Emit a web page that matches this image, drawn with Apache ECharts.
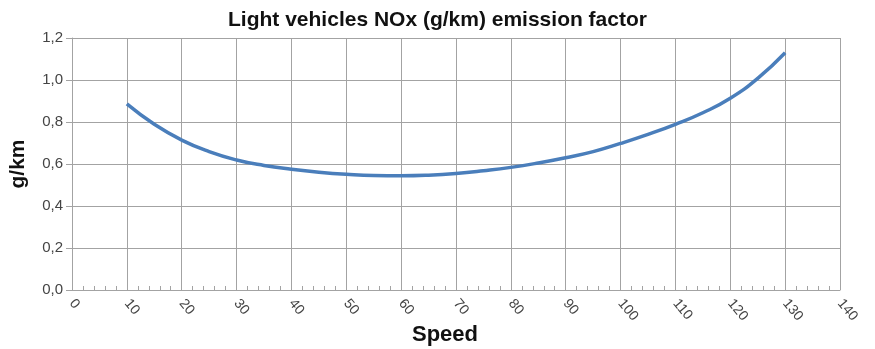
<!DOCTYPE html>
<html>
<head>
<meta charset="utf-8">
<script src="https://cdn.jsdelivr.net/npm/echarts@6/dist/echarts.min.js"></script>
<style>html,body{margin:0;padding:0;background:#fff}#c{width:875px;height:349px}</style>
</head>
<body>
<div id="c"></div>
<script>
const speeds = [10,15,20,25,30,35,40,45,50,55,60,65,70,75,80,85,90,95,100,105,110,115,120,125,130];
const noxValues = [0.886,0.789,0.714,0.659,0.619,0.593,0.575,0.561,0.551,0.545,0.544,0.547,0.555,0.568,0.584,0.605,0.630,0.659,0.698,0.741,0.789,0.844,0.913,1.008,1.130];
const titleText = 'Light vehicles NOx (g/km) emission factor';
const xName = 'Speed';
const yName = 'g/km';

const chart = echarts.init(document.getElementById('c'), null, {renderer: 'canvas'});
const gridColor = '#a3a3a3';
const font = 'Liberation Sans, Arial';
chart.setOption({
  animation: false,
  backgroundColor: '#fff',
  title: {
    text: titleText, left: 'center', top: 5,
    textStyle: {fontFamily: font, fontWeight: 'bold', fontSize: 21, color: '#111'}
  },
  grid: {left: 72, right: 35, top: 38, bottom: 59, outerBoundsMode: 'none', containLabel: false},
  xAxis: {
    type: 'value', min: 0, max: 140, interval: 10,
    name: xName, nameLocation: 'middle', nameGap: 34, nameMoveOverlap: false,
    nameTextStyle: {fontFamily: font, fontWeight: 'bold', fontSize: 22, color: '#111', padding: [0, 22, 0, 0]},
    axisLine: {show: true, lineStyle: {color: gridColor, width: 1}},
    axisTick: {show: true, inside: true, length: 4, lineStyle: {color: gridColor}},
    minorTick: {show: true, splitNumber: 5, length: 4, lineStyle: {color: gridColor}},
    axisLabel: {rotate: -50, margin: 11, fontFamily: font, fontSize: 14, color: '#444'},
    splitLine: {show: true, lineStyle: {color: gridColor, width: 1}}
  },
  yAxis: {
    type: 'value', min: 0, max: 1.2, interval: 0.2,
    name: yName, nameLocation: 'middle', nameGap: 43, nameRotate: 90, nameMoveOverlap: false,
    nameTextStyle: {fontFamily: font, fontWeight: 'bold', fontSize: 21, color: '#111'},
    axisLine: {show: true, lineStyle: {color: gridColor, width: 1}},
    axisTick: {show: true, length: 6, lineStyle: {color: gridColor}},
    axisLabel: {margin: 9, fontFamily: font, fontSize: 15, color: '#444',
      formatter: v => v.toFixed(1).replace('.', ',')},
    splitLine: {show: true, lineStyle: {color: gridColor, width: 1}}
  },
  series: [{
    type: 'line', smooth: true, showSymbol: false,
    data: speeds.map((s, i) => [s, noxValues[i]]),
    lineStyle: {color: '#4a7ebb', width: 3.5}
  }]
});
</script>
</body>
</html>
